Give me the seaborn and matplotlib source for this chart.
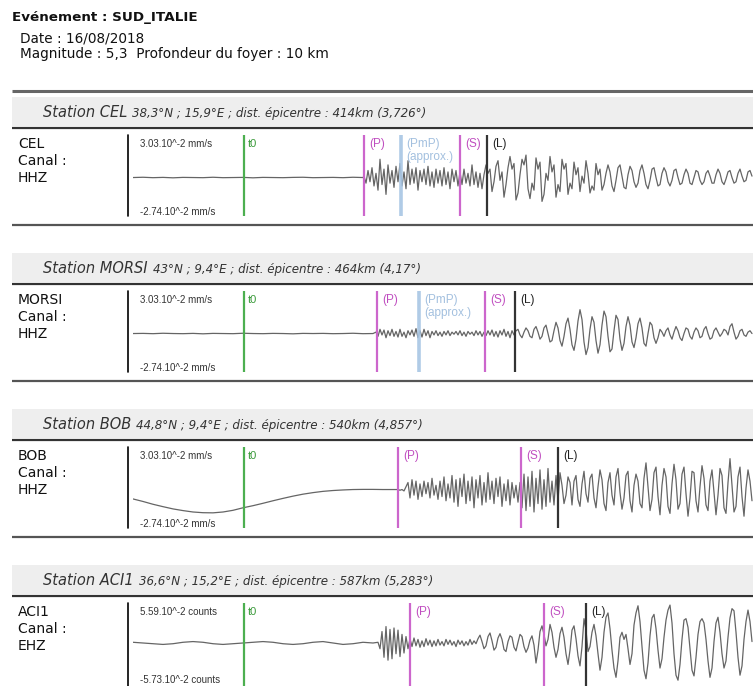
import numpy as np
import pandas as pd
import matplotlib
matplotlib.use("Agg")
import matplotlib.pyplot as plt
import seaborn as sns

sns.set_theme(style="white")
plt.rcParams["font.family"] = ["DejaVu Sans"]

# ---------------- data ----------------
event_name = "SUD_ITALIE"
event_date = "16/08/2018"
magnitude = "5,3"
depth = "10 km"

stations = ["CEL", "MORSI", "BOB", "ACI1"]
coords = ["38,3°N ; 15,9°E", "43°N ; 9,4°E", "44,8°N ; 9,4°E", "36,6°N ; 15,2°E"]
dist_km = [414, 464, 540, 587]
dist_deg = ["3,726", "4,17", "4,857", "5,283"]
channels = ["HHZ", "HHZ", "HHZ", "EHZ"]
amp_max = [3.03, 3.03, 3.03, 5.59]
amp_min = [-2.74, -2.74, -2.74, -5.73]
units = ["mm/s", "mm/s", "mm/s", "counts"]

# arrival times (s after t0)
p_times = [60.0, 66.5, 77.0, 83.0]
pmp_times = [78.5, 87.5, None, None]
s_times = [108.0, 120.5, 138.5, 150.0]
l_times = [121.5, 135.5, 157.0, 171.0]

t_start, t_end = -55.5, 254.5
quiet_step = 5.0

# quiet part (every 5 s from t_start) and active part (every 1 s from active start), 10^-2 units
cel_quiet = [0.0, 0.02, -0.01, 0.01, -0.02, 0.01, 0.0, -0.01, 0.02, -0.01, 0.0, 0.01,
             -0.02, 0.01, 0.0, -0.01, 0.01, 0.02, -0.01, 0.0, 0.01, -0.01, 0.02, 0.0]
cel_active_start = 60
cel_active = [
    0.1, -0.4, 0.5, -0.3, 0.7, -0.6, 0.3, -0.9, 1.3, -0.5,
    0.6, -1.2, 0.9, -0.4, 0.5, -0.7, 0.8, -0.3, 1.0, -0.6,
    0.4, -0.8, 1.2, -0.5, 0.6, -0.4, 0.7, -0.9, 0.5, -0.3,
    0.6, -0.5, 0.8, -0.6, 0.4, -0.7, 0.6, -0.4, 0.5, -0.6,
    0.7, -0.5, 0.4, -0.8, 0.6, -0.3, 0.5, -0.6, 0.4, -0.5,
    0.6, -0.4, 0.3, -0.6, 0.9, -0.5, 0.4, -0.7, 0.3, -0.8,
    0.2, 0.9, 0.3, 0.6, -1.0, -0.3, 0.8, 1.2, -0.2, 0.4,
    -1.4, -0.5, 0.7, 1.5, 0.6, 1.0, -1.6, -1.1, 0.2, 1.3,
    0.9, 1.6, -0.8, -1.5, -0.4, -0.9, 1.4, 0.6, 1.1, -1.7,
    -1.2, 0.3, -0.2, 1.5, 0.4, 0.9, -1.4, -0.5, -1.0, 1.3,
    0.6, 1.0, -1.2, -0.4, -0.8, 1.1, 0.2, 0.7, -1.0, 0.1,
    -0.4, 1.2, 0.3, -1.1, -0.6, -0.9, 1.0, 0.2, 0.6, -0.9,
    -0.5, 0.3, 0.9, 0.4, -0.6, -1.0, -0.2, 0.7, 0.9, 0.1,
    -0.7, -0.8, 0.2, 0.8, 0.5, -0.3, -0.7, -0.4, 0.5, 0.9,
    0.3, -0.5, -0.8, -0.2, 0.6, 0.7, 0.0, -0.6, -0.5, 0.3,
    0.7, 0.4, -0.3, -0.6, -0.2, 0.5, 0.6, 0.0, -0.5, -0.4,
    0.2, 0.6, 0.3, -0.4, -0.5, 0.0, 0.5, 0.4, -0.2, -0.5,
    -0.3, 0.3, 0.5, 0.1, -0.4, -0.4, 0.2, 0.6, 0.3, -0.3,
    -0.5, -0.1, 0.4, 0.5, 0.0, -0.4, -0.3, 0.3, 0.6, 0.1,
    -0.3, -0.2, 0.4, 0.5, 0.1]

morsi_quiet = [0.0, 0.01, -0.01, 0.02, 0.0, -0.01, 0.01, -0.02, 0.01, 0.0, -0.01, 0.02,
               0.0, -0.01, 0.01, 0.0, -0.02, 0.01, 0.0, 0.01, -0.01, 0.0, 0.02, -0.01, 0.0]
morsi_active_start = 66
morsi_active = [
    0.1, -0.2, 0.3, -0.1, 0.25, -0.3, 0.2, -0.15, 0.3, -0.2,
    0.15, -0.25, 0.3, -0.2, 0.1, -0.3, 0.2, -0.1, 0.25, -0.2,
    0.35, -0.3, 0.2, -0.25, 0.3, -0.15, 0.2, -0.3, 0.15, -0.1,
    0.2, -0.15, 0.1, -0.2, 0.15, -0.1, 0.2, -0.15, 0.1, -0.05,
    0.15, -0.1, 0.2, -0.15, 0.1, -0.2, 0.15, -0.05, 0.1, -0.15,
    0.2, -0.1, 0.15, -0.2, 0.1, -0.15, 0.2, -0.1, 0.25, -0.2,
    0.15, -0.25, 0.2, -0.1, 0.3, -0.2, 0.15, -0.3, 0.2, -0.1,
    0.2, 0.3, -0.1, -0.3, 0.1, 0.4, 0.2, -0.2, -0.3, 0.3,
    0.5, 0.1, -0.4, -0.2, 0.4, 0.6, 0.0, -0.6, -0.5, 0.2,
    0.8, 0.4, -0.5, -0.9, -0.2, 0.7, 1.1, 0.3, -0.8, -1.2,
    -0.4, 0.9, 1.7, 1.0, -0.6, -1.5, -1.0, 0.3, 1.2, 0.8,
    -0.5, -1.4, -0.8, 0.6, 1.6, 1.2, -0.2, -1.3, -1.1, 0.2,
    1.3, 1.0, -0.4, -1.2, -0.7, 0.5, 1.2, 0.6, -0.6, -1.0,
    -0.3, 0.7, 1.1, 0.4, -0.7, -0.9, 0.0, 0.8, 0.6, -0.3,
    -0.7, -0.3, 0.3, 0.1, -0.2, 0.2, 0.4, -0.1, -0.4, 0.1,
    0.5, 0.2, -0.3, -0.5, 0.0, 0.4, 0.3, -0.2, -0.4, 0.1,
    0.4, 0.2, -0.3, -0.2, 0.3, 0.5, 0.0, -0.4, -0.3, 0.2,
    0.4, 0.1, -0.2, 0.0, 0.3, 0.2, -0.1, 0.5, 0.7, 0.1,
    -0.4, -0.2, 0.2, 0.3, -0.1, -0.2, 0.1, 0.2, 0.0]

bob_quiet = [-0.67, -0.85, -1.05, -1.22, -1.38, -1.5, -1.6, -1.65, -1.66, -1.6, -1.48,
             -1.3, -1.15, -0.98, -0.8, -0.63, -0.47, -0.33, -0.22, -0.13, -0.07, -0.03,
             0.0, 0.01, 0.01, 0.0, 0.0]
bob_active_start = 77
bob_active = [
    0.0, -0.05, 0.0, -0.1, 0.2, 0.5, -0.6, 0.7, -0.4, 0.6,
    -0.7, 0.4, -0.5, 0.6, -0.3, 0.5, -0.6, 0.8, -0.4, 0.3,
    -0.7, 0.6, -0.5, 0.9, -0.8, 0.4, -0.6, 1.0, -0.9, 0.7,
    -1.2, 0.8, -0.5, 1.1, -1.0, 0.6, -0.8, 0.9, -1.3, 0.7,
    -0.6, 1.0, -1.1, 0.5, -0.9, 1.2, -0.7, 0.6, -1.0, 0.8,
    -0.5, 0.9, -1.2, 0.4, -0.8, 0.7, -1.1, 0.5, -0.6, 0.3,
    -0.9, 0.5, -1.3, 1.1, -1.5, 0.9, -1.2, 1.3, -1.6, 0.8,
    -1.0, 1.4, -1.4, 0.7, -1.2, 1.5, -0.9, 0.6, -1.1, 1.0,
    -0.8, 1.2, 0.3, -1.0, -0.4, 0.9, 0.5, -1.1, 0.6, 1.0,
    -0.7, -1.2, 0.4, 1.3, -0.3, -0.9, 0.8, 1.1, -0.6, -1.3,
    0.2, 1.4, 0.7, -1.0, -1.5, 0.5, 1.2, -0.4, -1.1, 0.9,
    1.5, -0.2, -1.4, -0.6, 1.0, 1.3, -0.8, -1.6, 0.3, 1.1,
    0.6, -1.0, -1.3, 0.8, 1.9, 0.2, -1.5, -0.7, 1.2, 1.6,
    -0.5, -1.8, 0.3, 1.5, 0.9, -1.2, -1.7, 0.4, 1.8, 0.7,
    -1.4, -1.0, 1.1, 1.6, -0.3, -1.9, -0.6, 1.3, 1.2, -0.8,
    -1.6, 0.2, 1.7, 0.8, -1.1, -1.5, 0.6, 1.4, -0.2, -1.8,
    -0.4, 1.5, 1.0, -1.3, -1.7, 0.5, 2.2, 0.3, -1.6, -1.2,
    0.9, 1.6, -0.5, -1.9, 0.1, 1.4, 0.6, -0.8]

aci1_quiet = [0.1, 0.0, -0.1, -0.2, -0.1, 0.1, 0.2, 0.1, -0.1, -0.2, -0.1, 0.0, 0.1,
              0.2, 0.1, -0.1, -0.2, -0.1, 0.1, 0.2, 0.0, -0.2, -0.1, 0.1, 0.0]
aci1_active_start = 67
aci1_active = [
    0.1, -0.8, 1.6, -2.0, 2.3, -2.4, 1.9, -2.2, 2.1, -1.5,
    1.8, -1.9, 1.2, -1.4, 0.9, -0.8, 0.6, -0.5, 0.7, -0.4,
    0.5, -0.6, 0.3, -0.5, 0.6, -0.3, 0.4, -0.5, 0.3, -0.4,
    0.5, -0.3, 0.2, -0.4, 0.5, -0.2, 0.4, -0.3, 0.2, -0.5,
    0.4, -0.2, 0.3, -0.4, 0.2, -0.3, 0.5, -0.2, 0.3, -0.1,
    0.6, 1.1, 0.2, -0.8, -0.4, 0.9, 1.4, 0.3, -1.0, -0.6,
    0.7, 1.3, 0.5, -0.9, -1.2, 0.2, 1.0, 0.8, -0.6, -1.1,
    0.1, 1.2, 0.9, -0.5, -1.3, -0.7, 0.4, 1.0, -0.3, -2.8,
    -1.0, 1.6, 2.4, 1.2, -0.4, 0.5, 2.6, 1.5, -0.6, -2.0,
    -0.9, 1.3, 2.2, 0.8, -1.5, -3.0, -1.0, 1.8, 2.4, 0.6,
    -1.8, -3.2, -0.5, 3.4, 1.8, -1.2, -0.5, 1.5, 2.6, 1.0,
    -1.5, -3.8, -2.0, 1.5, 3.6, 4.2, 2.0, -1.0, -3.5, -4.8,
    -2.5, 0.8, 1.5, 0.5, 1.2, -0.8, -3.0, -1.5, 2.5, 4.2,
    5.2, 3.0, -0.5, -3.8, -5.0, -2.8, 1.0, 3.5, 4.0, 2.0,
    -1.0, -3.5, -2.2, 0.8, 3.2, 4.6, 5.3, 2.8, -1.5, -4.5,
    -5.2, -3.0, 0.5, 3.2, 3.4, 2.2, -0.8, -3.8, -4.6, -2.0,
    1.2, 3.0, 3.4, 2.8, 0.5, -2.5, -4.8, -3.5, 0.2, 2.8,
    3.6, 1.5, -1.5, -3.5, -2.5, 0.8, 3.5, 4.8, 4.5, 1.5,
    -2.0, -4.5, -3.2, 0.5, 3.0, 4.6, 3.0, 0.2]

quiet_parts = [cel_quiet, morsi_quiet, bob_quiet, aci1_quiet]
active_parts = [cel_active, morsi_active, bob_active, aci1_active]
active_starts = [cel_active_start, morsi_active_start, bob_active_start, aci1_active_start]

# ---------------- styling / layout ----------------
W, H = 753, 686
fig = plt.figure(figsize=(W / 100, H / 100), dpi=100)
bg = fig.add_axes([0, 0, 1, 1])
bg.set_xlim(0, W)
bg.set_ylim(H, 0)
bg.axis("off")


def px_axes(x0, y0, x1, y1):
    return fig.add_axes([x0 / W, 1 - y1 / H, (x1 - x0) / W, (y1 - y0) / H])


C_T0 = "#4caf50"
C_PS = "#cc66cc"
C_PMP = "#a8c6e4"
C_L = "#333333"
T_T0 = "#3a9a3a"
T_PS = "#c04ec0"
T_PMP = "#a3c0df"
SMALL = ["Liberation Sans", "DejaVu Sans"]

# header
bg.text(12, 18, f"Evénement : {event_name}", fontsize=9.7, fontweight="bold",
        va="center", ha="left", color="#111")
bg.text(20, 38, f"Date : {event_date}", fontsize=9.8, va="center", ha="left", color="#111")
bg.text(20, 54, f"Magnitude : {magnitude}  Profondeur du foyer : {depth}", fontsize=9.8,
        va="center", ha="left", color="#111")
bg.plot([12, W], [90.5, 90.5], color="#666666", lw=2.2, solid_capstyle="butt")

box_tops = [97, 253, 409, 565]
fig.canvas.draw()
renderer = fig.canvas.get_renderer()

for i, st in enumerate(stations):
    B = box_tops[i]
    bg.add_patch(plt.Rectangle((12, B), W - 12, 29, color="#eeeeee", lw=0))
    t1 = bg.text(43, B + 20, f"Station {st}", fontsize=10.5, style="italic",
                 va="baseline", ha="left", color="#333333")
    bb = t1.get_window_extent(renderer=renderer)
    x_end = bg.transData.inverted().transform((bb.x1, bb.y0))[0]
    bg.text(x_end + 5, B + 20,
            f"{coords[i]} ; dist. épicentre : {dist_km[i]}km ({dist_deg[i]}°)",
            fontsize=8.6, style="italic", va="baseline", ha="left", color="#333333")
    bg.plot([12, W], [B + 31, B + 31], color="#333333", lw=1.6, solid_capstyle="butt")

    ct = B + 38
    cb = B + 119 if i < 3 else H
    if i < 3:
        bg.plot([12, W], [B + 128, B + 128], color="#555555", lw=1.6, solid_capstyle="butt")
    bg.plot([128, 128], [ct, cb], color="black", lw=1.2)

    bg.text(18, ct + 9, st, fontsize=10, va="center", ha="left", color="#111")
    bg.text(18, ct + 26, "Canal :", fontsize=10, va="center", ha="left", color="#111")
    bg.text(18, ct + 43, channels[i], fontsize=10, va="center", ha="left", color="#111")

    bg.text(140, ct + 9, f"{amp_max[i]:.2f}.10^-2 {units[i]}", fontsize=7, family=SMALL,
            va="center", ha="left", color="#333333")
    bg.text(140, ct + 77, f"{amp_min[i]:.2f}.10^-2 {units[i]}", fontsize=7, family=SMALL,
            va="center", ha="left", color="#333333")

    # waveform axes
    ax = px_axes(133, ct, W, cb)
    q = quiet_parts[i]
    a = active_parts[i]
    times = np.concatenate([t_start + quiet_step * np.arange(len(q)),
                            active_starts[i] + np.arange(len(a))])
    df = pd.DataFrame({"t": times, "v": np.array(q + a, dtype=float)})
    sns.lineplot(data=df, x="t", y="v", ax=ax, color="#4a4a4a", lw=0.9, alpha=0.85,
                 estimator=None, sort=False)
    ax.set_xlim(t_start, t_end)
    lo, hi = amp_min[i], amp_max[i]
    if i == 3:
        lo = lo * (cb - ct) / 81 - (hi * ((cb - ct) / 81 - 1))
    ax.set_ylim(lo, hi)
    ax.axis("off")

    ax.axvline(0, color=C_T0, lw=1.6)
    ax.axvline(p_times[i], color=C_PS, lw=1.6)
    ax.axvline(s_times[i], color=C_PS, lw=1.6)
    ax.axvline(l_times[i], color=C_L, lw=1.6)
    ax.text(2, 1 - 9 / (cb - ct), "t0", transform=ax.get_xaxis_transform(), fontsize=8,
            family=SMALL, color=T_T0, va="center", ha="left")
    ax.text(p_times[i] + 2.5, 1 - 9 / (cb - ct), "(P)", transform=ax.get_xaxis_transform(),
            fontsize=8.5, family=SMALL, color=T_PS, va="center", ha="left")
    ax.text(s_times[i] + 2.5, 1 - 9 / (cb - ct), "(S)", transform=ax.get_xaxis_transform(),
            fontsize=8.5, family=SMALL, color=T_PS, va="center", ha="left")
    ax.text(l_times[i] + 2.5, 1 - 9 / (cb - ct), "(L)", transform=ax.get_xaxis_transform(),
            fontsize=8.5, family=SMALL, color="#222222", va="center", ha="left")
    if pmp_times[i] is not None:
        ax.axvline(pmp_times[i], color=C_PMP, lw=2.6, alpha=0.9)
        ax.text(pmp_times[i] + 2.5, 1 - 9 / (cb - ct), "(PmP)", transform=ax.get_xaxis_transform(),
                fontsize=8.5, family=SMALL, color=T_PMP, va="center", ha="left")
        ax.text(pmp_times[i] + 2.5, 1 - 22 / (cb - ct), "(approx.)", transform=ax.get_xaxis_transform(),
                fontsize=8.5, family=SMALL, color=T_PMP, va="center", ha="left")

fig.savefig("out.png", dpi=100)
